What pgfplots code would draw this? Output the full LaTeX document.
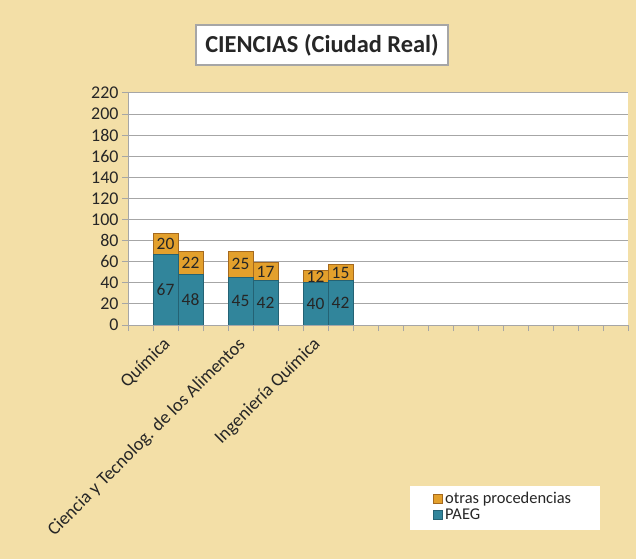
\documentclass[border=0pt]{standalone}
\usepackage{fontspec}
\setmainfont{Carlito}
\usepackage{pgfplots}
\pgfplotsset{compat=1.18}
\definecolor{bg}{RGB}{243,223,167}
\definecolor{paeg}{RGB}{49,133,155}
\definecolor{paegE}{RGB}{36,98,116}
\definecolor{otras}{RGB}{227,160,44}
\definecolor{otrasE}{RGB}{165,105,30}
\definecolor{gridc}{RGB}{166,166,166}
\definecolor{txt}{RGB}{38,38,38}
\pgfplotsset{common/.style={at={(128bp,234bp)}, anchor=south west, scale only axis, width=500bp, height=232bp,
  xmin=0, xmax=20, ymin=0, ymax=220}}
\begin{document}
\begin{tikzpicture}
\fill[bg] (0bp,0bp) rectangle (636bp,559bp);
\fill[white] (410bp,29bp) rectangle (600bp,73bp);
\node[draw=gridc, line width=1.5bp, fill=white, minimum width=252bp, minimum height=40bp, inner sep=0pt,
  font=\fontsize{24.5}{28}\selectfont\bfseries, text=txt] at (322bp,514bp) {CIENCIAS (Ciudad Real)};
\begin{axis}[
  common,
  /pgf/number format/assume math mode=true,
  ytick={0,20,...,220},
  xtick={2,5,8},
  minor xtick={0,...,20},
  xticklabels={Química,Ciencia y Tecnolog. de los Alimentos,Ingeniería Química},
  axis background/.style={fill=white},
  axis x line*=bottom, axis y line*=left,
  axis line style={draw=gridc, line width=1bp, -},
  tick align=outside, major tick length=6bp, minor tick length=6bp,
  tick style={draw=gridc, line width=1bp},
  ymajorgrids, grid style={draw=gridc, line width=1bp},
  yticklabel style={font=\fontsize{18}{21}\selectfont, text=txt},
  xticklabel style={font=\fontsize{18.5}{22}\selectfont, text=txt, xshift=-16bp, rotate=45, anchor=north east},
  ybar stacked, bar width=1,
  reverse legend,
  legend style={at={(axis description cs:0.608,-0.86)}, anchor=south west, draw=none, fill=none,
     font=\fontsize{16.5}{19}\selectfont, text=txt, row sep=0bp, inner sep=1bp},
  legend cell align=left,
  legend image code/.code={\draw[#1, line width=1bp] (0bp,-4.5bp) rectangle (9bp,4.5bp);},
]
\addplot[fill=paeg, draw=paegE, line width=1bp] coordinates {(1.5,67) (2.5,48) (4.5,45) (5.5,42) (7.5,40) (8.5,42)};
\addlegendentry{PAEG}
\addplot[fill=otras, draw=otrasE, line width=1bp] coordinates {(1.5,20) (2.5,22) (4.5,25) (5.5,17) (7.5,12) (8.5,15)};
\addlegendentry{otras procedencias}
\end{axis}
\begin{axis}[common, hide axis,
  nodes near coords, point meta=explicit symbolic,
  every node near coord/.append style={font=\fontsize{17.5}{20}\selectfont, text=txt, anchor=center}]
\addplot[draw=none, mark=none] coordinates {(1.5,33.5)[67] (2.5,24)[48] (4.5,22.5)[45] (5.5,21)[42] (7.5,20)[40] (8.5,21)[42]};
\addplot[draw=none, mark=none] coordinates {(1.5,77)[20] (2.5,59)[22] (4.5,57.5)[25] (5.5,50.5)[17] (7.5,46)[12] (8.5,49.5)[15]};
\end{axis}
\end{tikzpicture}
\end{document}
